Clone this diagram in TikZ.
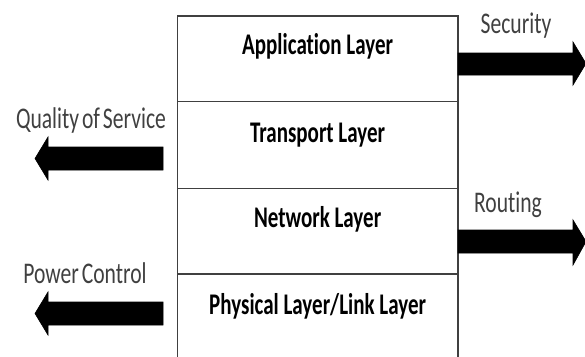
\documentclass[tikz,border=0pt]{standalone}
\usepackage{fontspec}
\usepackage{graphicx}
\setmainfont[Ligatures=CommonOff]{Carlito}
\newfontfamily\tightfont[Ligatures=CommonOff,WordSpace=0.6]{Carlito}
\begin{document}
\begin{tikzpicture}[x=1pt,y=-1pt,
  layerbox/.style={draw=black!75,line width=1.6pt},
  layerlabel/.style={anchor=base,inner sep=0pt,font=\fontsize{30}{34}\selectfont\bfseries,text=black},
  sidelabel/.style={anchor=base,inner sep=0pt,font=\tightfont\fontsize{30}{34}\selectfont,text=black!75},
  fatarrow/.style={fill=black,draw=black,line width=0.6pt,line join=miter}]
  \useasboundingbox (0,0) rectangle (585,356);
  \clip (0,0) rectangle (585,356);

  % protocol stack
  \draw[layerbox] (177.5,362) -- (177.5,16) -- (457.7,16) -- (457.7,362);
  \draw[layerbox] (177.5,101.5) -- (457.7,101.5);
  \draw[layerbox] (177.5,188.5) -- (457.7,188.5);
  \draw[layerbox] (177.5,274) -- (457.7,274);
  \draw[layerbox] (177.5,360) -- (457.7,360);

  \node[layerlabel] (app)  at (317.6,54)  {\scalebox{0.7}[1]{Application Layer}};
  \node[layerlabel] (trn)  at (317.6,142) {\scalebox{0.7}[1]{Transport Layer}};
  \node[layerlabel] (net)  at (317.6,227) {\scalebox{0.7}[1]{Network Layer}};
  \node[layerlabel] (phy)  at (317.6,314) {\scalebox{0.7}[1]{Physical Layer/Link Layer}};

  % cross-layer concerns on the right
  \fill[fatarrow] (458,53) -- (573,53) -- (573,42) -- (586,63.5) -- (573,85) -- (573,75) -- (458,75) -- cycle;
  \fill[fatarrow] (458,230) -- (573,230) -- (573,220) -- (586,241.5) -- (573,265) -- (573,253) -- (458,253) -- cycle;
  \node[sidelabel] (sec) at (516,33)  {\scalebox{0.72}[1]{Security}};
  \node[sidelabel] (rot) at (508,212) {\scalebox{0.72}[1]{Routing}};

  % cross-layer concerns on the left
  \fill[fatarrow] (163,147) -- (48,147) -- (48,137) -- (35,158.5) -- (48,180) -- (48,170) -- (163,170) -- cycle;
  \fill[fatarrow] (163,302) -- (48,302) -- (48,292) -- (35,313.5) -- (48,335) -- (48,325) -- (163,325) -- cycle;
  \node[sidelabel] (qos) at (91,128) {\scalebox{0.72}[1]{Quality of Service}};
  \node[sidelabel] (pwr) at (85,283) {\scalebox{0.72}[1]{Power Control}};
\end{tikzpicture}
\end{document}
